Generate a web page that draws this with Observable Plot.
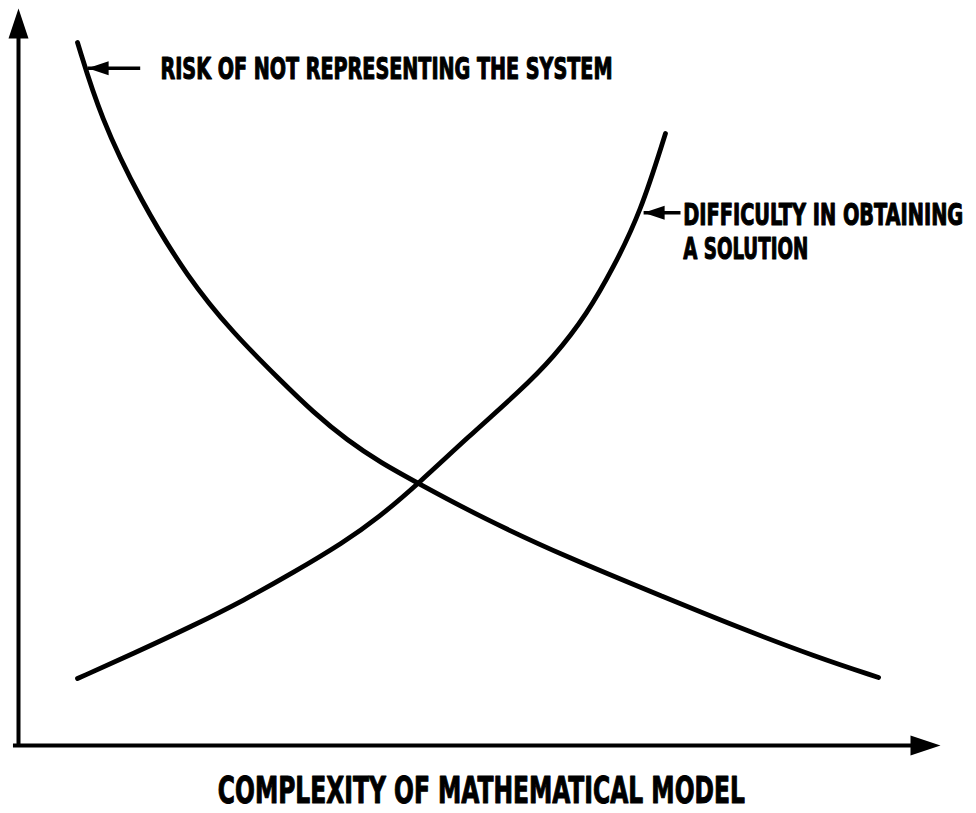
<!DOCTYPE html>
<html><head><meta charset="utf-8">
<script src="https://cdn.jsdelivr.net/npm/d3@7"></script>
<script src="https://cdn.jsdelivr.net/npm/@observablehq/plot@0.6"></script>
<style>html,body{margin:0;padding:0;background:#fff}</style>
</head><body><div id="chart"></div>
<script>
// Curve values (complexity 0-100, magnitude 0-100)
const riskX = [6.40, 8.89, 13.23, 18.33, 23.32, 28.42, 32.00, 35.68, 39.26, 43.38, 50.43, 59.54, 70.39, 77.55, 86.66, 93.28];
const riskY = [95.39, 85.21, 73.95, 63.50, 55.90, 49.53, 45.18, 41.38, 38.40, 35.55, 30.80, 25.51, 19.95, 16.28, 11.94, 9.23];
const diffX = [6.40, 12.47, 18.98, 24.40, 29.83, 35.25, 38.94, 43.38, 48.70, 54.45, 58.03, 61.71, 64.53, 67.46, 70.17];
const diffY = [9.09, 12.48, 16.28, 19.67, 23.47, 27.54, 30.80, 35.55, 41.79, 48.17, 52.65, 58.62, 64.86, 72.32, 83.04];

// Texts
const xTitle = "COMPLEXITY OF MATHEMATICAL MODEL";
const labelRisk = "RISK OF NOT REPRESENTING THE SYSTEM";
const labelDiff = ["DIFFICULTY IN OBTAINING", "A SOLUTION"];

// Annotation anchors (data units)
const arrowTipX = [7.5, 67.8];
const arrowTipY = [91.9, 72.3];
const arrowTailX = [13.2, 71.8];
const labelX = [15.4, 72.1, 72.1];
const labelY = [91.7, 71.9, 67.4];
const titleX = [50.2];
const titleY = [-6.1];

// ---- build
const risk = riskX.map((x, i) => ({x, y: riskY[i]}));
const diff = diffX.map((x, i) => ({x, y: diffY[i]}));
const arrows = arrowTipX.map((x, i) => ({x1: arrowTailX[i], x2: x, y: arrowTipY[i]}));
const labels = [labelRisk, ...labelDiff].map((t, i) => ({t, x: labelX[i], y: labelY[i]}));
const title = [{t: xTitle, x: titleX[0], y: titleY[0]}];

// target rendered widths (style) for the condensed lettering
const textWidths = new Map([
  [labelRisk, 452], [labelDiff[0], 280], [labelDiff[1], 125], [xTitle, 527]
]);
const stretch = new Map([
  [labelRisk, 1.6], [labelDiff[0], 1.6], [labelDiff[1], 1.6], [xTitle, 1.45]
]);

// filled arrowhead symbol, tip at the origin pointing up
const head = {
  draw(ctx, size) {
    const s = Math.sqrt(size / Math.PI);
    ctx.moveTo(0, 0);
    ctx.lineTo(-s, 3 * s);
    ctx.lineTo(s, 3 * s);
    ctx.closePath();
  }
};

const font = "'DejaVu Sans Condensed', 'Liberation Sans Narrow', sans-serif";

const chart = Plot.plot({
  width: 976,
  height: 813,
  marginLeft: 18,
  marginRight: 36,
  marginTop: 8,
  marginBottom: 68,
  x: {domain: [0, 100], axis: null},
  y: {domain: [0, 100], axis: null},
  marks: [
    // axes
    Plot.link([{x1: -0.6, x2: 97, y: 0}], {x1: "x1", x2: "x2", y1: "y", y2: "y", stroke: "black", strokeWidth: 4}),
    Plot.link([{x: 0, y1: 0, y2: 97}], {x1: "x", x2: "x", y1: "y1", y2: "y2", stroke: "black", strokeWidth: 4}),
    Plot.dot([{x: 0, y: 100}], {x: "x", y: "y", symbol: head, r: 10, fill: "black", stroke: "none"}),
    Plot.dot([{x: 100, y: 0}], {x: "x", y: "y", symbol: head, r: 10, fill: "black", stroke: "none", rotate: 90}),
    // curves
    Plot.line(risk, {x: "x", y: "y", curve: "basis", stroke: "black", strokeWidth: 4.8}),
    Plot.line(diff, {x: "x", y: "y", curve: "basis", stroke: "black", strokeWidth: 4.8}),
    // annotation arrows
    Plot.link(arrows, {x1: "x1", x2: "x2", y1: "y", y2: "y", stroke: "black", strokeWidth: 3.5}),
    Plot.dot(arrows, {x: "x2", y: "y", symbol: head, r: 7, fill: "black", stroke: "none", rotate: -90}),
    // labels
    Plot.text(labels, {x: "x", y: "y", text: "t", textAnchor: "start", fontSize: 19, fontWeight: "bold", fontFamily: font, fill: "black", stroke: "black", strokeWidth: 0.7}),
    Plot.text(title, {x: "x", y: "y", text: "t", textAnchor: "middle", fontSize: 26, fontWeight: "bold", fontFamily: font, fill: "black", stroke: "black", strokeWidth: 0.7})
  ]
});

chart.querySelectorAll("text").forEach(el => {
  const w = textWidths.get(el.textContent);
  if (!w) return;
  const k = stretch.get(el.textContent);
  el.setAttribute("textLength", w);
  el.setAttribute("lengthAdjust", "spacingAndGlyphs");
  const tr = el.getAttribute("transform");
  if (tr) {
    el.setAttribute("transform", tr + ` scale(1,${k})`);
  } else {
    const x = +el.getAttribute("x") || 0, y = +el.getAttribute("y") || 0;
    el.removeAttribute("x"); el.removeAttribute("y");
    el.setAttribute("transform", `translate(${x},${y}) scale(1,${k})`);
  }
});

document.getElementById("chart").appendChild(chart);
</script>
</body></html>
